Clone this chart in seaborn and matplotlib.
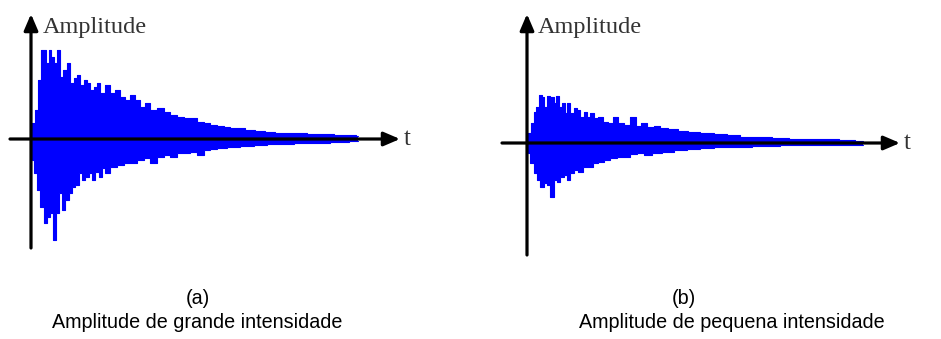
import matplotlib
matplotlib.use("Agg")
import matplotlib.pyplot as plt
import seaborn as sns
import pandas as pd

# decaying sound waveforms, envelope (time units, amplitude units)
t_up_a = [1, 6, 8, 11, 14, 16, 19, 21, 24, 27, 30, 34, 37, 41, 44, 47, 51, 54, 57, 61,
          64, 67, 71, 76, 81, 86, 91, 96, 101, 106, 111, 116, 122, 129, 136, 142, 149, 156, 162, 169,
          176, 182, 189, 196, 202, 209, 219, 229, 239, 249, 259, 269, 282, 296, 309, 322, 327]
up_a = [16, 29, 59, 89, 89, 76, 89, 82, 76, 89, 62, 69, 76, 56, 61, 64, 54, 59, 56, 49,
        52, 56, 46, 54, 46, 49, 42, 39, 44, 39, 32, 36, 29, 31, 27, 24, 22, 21, 21, 17,
        16, 14, 13, 12, 11, 11, 9, 8, 7, 6, 6, 6, 5, 5, 4, 4, 3]
t_lo_a = [1, 4, 7, 11, 14, 17, 21, 23, 26, 29, 32, 36, 39, 42, 46, 49, 52, 56, 59, 62,
          66, 69, 72, 76, 82, 89, 96, 102, 109, 116, 122, 129, 136, 142, 149, 156, 162, 169, 176, 182,
          189, 202, 216, 229, 242, 256, 269, 289, 309, 327]
lo_a = [21, 34, 51, 68, 84, 78, 74, 101, 74, 54, 71, 61, 54, 48, 46, 34, 41, 38, 34, 41,
        33, 38, 29, 34, 28, 26, 24, 24, 21, 19, 24, 18, 16, 18, 14, 14, 13, 16, 11, 10,
        9, 8, 7, 6, 5, 5, 4, 4, 3, 2]

t_up_b = [1, 6, 8, 10, 13, 16, 18, 21, 25, 28, 30, 33, 36, 39, 41, 45, 48, 51, 55, 58,
          61, 65, 68, 73, 78, 83, 88, 93, 100, 106, 111, 116, 123, 130, 136, 146, 156, 166, 180, 193,
          206, 220, 236, 253, 270, 286, 303, 320, 336]
up_b = [10, 20, 31, 36, 48, 46, 36, 47, 46, 40, 47, 36, 40, 30, 40, 30, 35, 33, 26, 31,
        26, 30, 25, 26, 21, 20, 26, 20, 18, 26, 17, 20, 16, 17, 15, 14, 12, 11, 10, 9,
        8, 6, 6, 5, 4, 4, 4, 3, 2]
t_lo_b = [1, 5, 8, 11, 15, 18, 21, 25, 28, 31, 35, 38, 41, 45, 48, 53, 58, 63, 68, 73,
          80, 86, 93, 100, 106, 113, 120, 130, 140, 153, 166, 180, 193, 213, 236, 270, 303, 336]
lo_b = [10, 20, 30, 37, 44, 40, 42, 54, 37, 39, 34, 32, 37, 30, 27, 29, 24, 24, 20, 19,
        17, 15, 14, 14, 11, 10, 12, 10, 9, 7, 6, 5, 4, 4, 3, 2, 2, 2]

panel_tags = ["(a)", "(b)"]
captions = ["Amplitude de grande intensidade", "Amplitude de pequena intensidade"]

BLUE = "#0000FF"
W, H = 941, 339

sns.set_theme(style="white")
plt.rcParams["font.family"] = ["Liberation Sans", "DejaVu Sans"]

fig = plt.figure(figsize=(W / 100, H / 100), dpi=100)
fig.patch.set_facecolor("white")


def draw_panel(left_px, width_px, ox, oy, y_bottom, x_left, x_right, label_x, tu, up, tl, lo):
    # axes covering a strip of the figure, 1 data unit = 1 pixel
    ax = fig.add_axes([left_px / W, (H - 260) / H, width_px / W, 260 / H])
    ax.set_xlim(-(ox - left_px), left_px + width_px - ox)
    ax.set_ylim(oy - 260, oy)
    ax.axis("off")

    upper = pd.DataFrame({"t": tu, "amp": up})
    lower = pd.DataFrame({"t": tl, "amp": [-v for v in lo]})
    ax.fill_between(upper["t"], 0, upper["amp"], step="mid", color=BLUE, lw=0)
    ax.fill_between(lower["t"], lower["amp"], 0, step="mid", color=BLUE, lw=0)
    sns.lineplot(data=upper, x="t", y="amp", ax=ax, color=BLUE, lw=0.8,
                 drawstyle="steps-mid", estimator=None)
    sns.lineplot(data=lower, x="t", y="amp", ax=ax, color=BLUE, lw=0.8,
                 drawstyle="steps-mid", estimator=None)

    arrow = dict(arrowstyle="-|>,head_length=0.7,head_width=0.3", lw=2.3, color="black",
                 mutation_scale=14, shrinkA=0, shrinkB=0)
    ax.annotate("", xy=(0, oy - 14), xytext=(0, oy - y_bottom), arrowprops=arrow, zorder=5)
    ax.annotate("", xy=(x_right - ox, 0), xytext=(x_left - ox, 0), arrowprops=arrow, zorder=5)
    ax.text(x_right - ox + 4, 0, "t", family="Liberation Serif", fontsize=18,
            color="#333333", ha="left", va="center")
    ax.text(label_x - ox, oy - 28, "Amplitude", family="Liberation Serif", fontsize=17.5,
            color="#333333", ha="left", va="center")
    return ax


draw_panel(0, 470, 31, 139, 248, 10, 400, 43, t_up_a, up_a, t_lo_a, lo_a)
draw_panel(470, 471, 527, 143, 255, 502, 900, 538, t_up_b, up_b, t_lo_b, lo_b)

tag_x = [198, 684]
cap_x = [197, 732]
for tag, cap, tx, cx in zip(panel_tags, captions, tag_x, cap_x):
    fig.text(tx / W, 1 - 298 / H, tag, fontsize=14.2, ha="center", va="center", color="black")
    fig.text(cx / W, 1 - 328 / H, cap, fontsize=14.2, ha="center", va="baseline", color="black")

fig.savefig("out.png", dpi=100, facecolor="white")
